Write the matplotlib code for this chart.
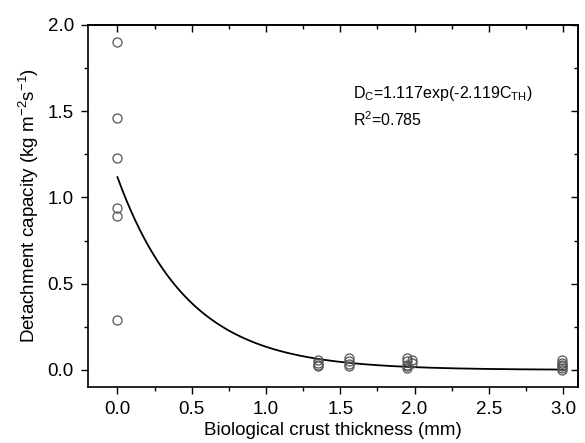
import numpy as np
import matplotlib
matplotlib.use("Agg")
import matplotlib.pyplot as plt
from matplotlib.ticker import MultipleLocator, NullFormatter

plt.rcParams["font.family"] = ["Liberation Sans", "DejaVu Sans"]
plt.rcParams["mathtext.fontset"] = "custom"
plt.rcParams["mathtext.rm"] = "Liberation Sans"
plt.rcParams["mathtext.it"] = "Liberation Sans"
plt.rcParams["mathtext.default"] = "rm"

# ---- data ----
thickness = [0.0, 0.0, 0.0, 0.0, 0.0, 0.0,
             1.35, 1.35, 1.35, 1.35,
             1.56, 1.56, 1.56, 1.56,
             1.95, 1.95, 1.95, 1.95, 1.95,
             1.98, 1.98,
             2.99, 2.99, 2.99, 2.99, 2.99, 2.99]
capacity = [1.90, 1.46, 1.23, 0.94, 0.89, 0.29,
            0.055, 0.04, 0.03, 0.02,
            0.07, 0.05, 0.035, 0.025,
            0.07, 0.05, 0.03, 0.02, 0.01,
            0.06, 0.04,
            0.06, 0.04, 0.03, 0.02, 0.01, 0.0]

# fitted model given on the chart
fit_a = 1.117
fit_b = -2.119
fit_range = (0.0, 3.0)

fig = plt.figure(figsize=(5.85, 4.43), dpi=100)
ax = fig.add_axes([0.150, 0.126, 0.838, 0.818])

ax.plot(thickness, capacity, "o", ms=6.5, mfc="none", mec="#555555", mew=0.9,
        zorder=3)

xf = np.linspace(fit_range[0], fit_range[1], 300)
ax.plot(xf, fit_a * np.exp(fit_b * xf), color="black", lw=1.3, zorder=2)

ax.set_xlim(-0.2, 3.1)
ax.set_ylim(-0.1, 2.0)
for axis in (ax.xaxis, ax.yaxis):
    axis.set_major_locator(MultipleLocator(0.5))
    axis.set_minor_locator(MultipleLocator(0.25))
ax.tick_params(which="both", direction="out", width=1.0)
ax.tick_params(which="major", length=5, labelsize=13.5, pad=5)
ax.tick_params(which="minor", length=3)
for s in ax.spines.values():
    s.set_linewidth(1.2)

# inward ticks on top and right, no labels
top = ax.secondary_xaxis("top")
top_axis = top.xaxis
right = ax.secondary_yaxis("right")
right_axis = right.yaxis
for axis in (top_axis, right_axis):
    axis.set_major_locator(MultipleLocator(0.5))
    axis.set_minor_locator(MultipleLocator(0.25))
    axis.set_major_formatter(NullFormatter())
    axis.set_minor_formatter(NullFormatter())
for sec in (top, right):
    sec.tick_params(which="both", direction="in", width=1.0)
    sec.tick_params(which="major", length=5)
    sec.tick_params(which="minor", length=3)
    for s in sec.spines.values():
        s.set_linewidth(1.2)

ax.set_xlabel("Biological crust thickness (mm)", fontsize=13.5, labelpad=3)
ax.set_ylabel("Detachment capacity (kg m$^{-2}$s$^{-1}$)", fontsize=13.5,
              labelpad=5)

ax.text(1.585, 1.60, "D$_{\\mathrm{C}}$=1.117exp(-2.119C$_{\\mathrm{TH}}$)",
        fontsize=11.5, va="center", ha="left")
ax.text(1.585, 1.45, "R$^{2}$=0.785", fontsize=11.5, va="center", ha="left")

fig.savefig("out.png", dpi=100)
